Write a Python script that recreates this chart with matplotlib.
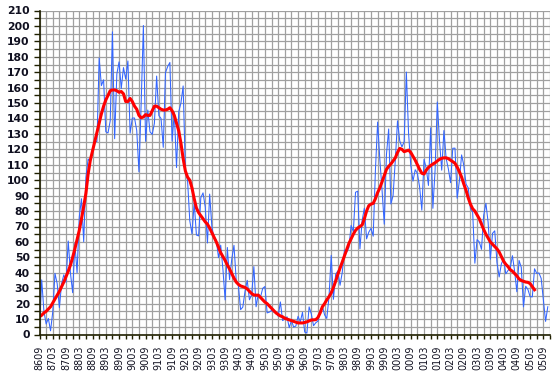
import matplotlib
matplotlib.use("Agg")
import matplotlib.pyplot as plt
from matplotlib.ticker import MultipleLocator, FixedLocator

# Monthly sunspot numbers, 1986-09 .. 2005-11
monthly_ssn = [
    3.8, 35.4, 15.2, 6.8,
    10.4, 2.4, 14.7, 39.6, 33.0, 17.4, 33.0, 38.7, 33.9, 60.6, 39.9, 27.1,
    59.0, 40.0, 76.2, 88.0, 60.1, 101.8, 113.8, 111.6, 120.1, 125.1, 125.1, 179.2,
    161.3, 165.1, 131.4, 130.6, 138.5, 196.2, 126.9, 168.9, 176.7, 159.4, 173.0, 165.5,
    177.3, 130.5, 140.3, 140.3, 132.2, 105.4, 149.4, 200.3, 125.2, 145.5, 131.4, 129.7,
    136.9, 167.5, 141.9, 140.0, 121.3, 169.7, 173.7, 176.3, 125.3, 144.1, 108.2, 144.4,
    150.0, 161.1, 106.7, 99.8, 73.8, 65.2, 85.7, 64.5, 63.9, 88.7, 91.8, 82.6,
    59.3, 91.0, 69.8, 62.2, 61.3, 49.8, 57.9, 42.2, 22.4, 56.4, 35.6, 48.9,
    57.8, 35.5, 31.7, 16.1, 17.8, 28.0, 35.1, 22.5, 25.7, 44.0, 18.0, 26.2,
    24.2, 29.9, 31.1, 14.0, 14.5, 15.6, 14.5, 14.3, 11.8, 21.1, 9.0, 10.0,
    11.5, 4.4, 9.2, 4.8, 5.5, 11.8, 8.2, 14.4, 1.6, 0.9, 17.9, 13.3,
    5.7, 7.6, 8.7, 15.5, 18.5, 12.7, 10.4, 24.4, 51.3, 22.8, 39.0, 41.2,
    31.9, 40.3, 54.8, 53.4, 56.3, 70.7, 66.6, 92.2, 92.9, 55.5, 74.0, 81.9,
    62.0, 66.3, 68.8, 63.7, 106.4, 137.7, 113.5, 93.7, 71.5, 116.7, 133.2, 84.6,
    90.1, 112.9, 138.5, 125.5, 121.6, 124.9, 170.1, 130.5, 109.7, 99.4, 106.8, 104.4,
    95.6, 80.6, 113.5, 107.7, 96.6, 134.0, 81.8, 106.4, 150.7, 125.5, 106.5, 132.2,
    114.1, 107.4, 98.4, 120.7, 120.8, 88.3, 99.6, 116.4, 109.6, 97.5, 95.0, 81.6,
    79.5, 46.2, 61.5, 60.0, 55.2, 77.4, 85.0, 72.7, 48.8, 65.6, 67.2, 46.6,
    37.3, 45.8, 49.1, 39.3, 41.5, 43.2, 51.1, 40.9, 27.7, 48.0, 43.5, 17.9,
    31.3, 29.2, 24.5, 24.4, 42.6, 39.6, 39.9, 36.4, 22.1, 8.5, 18.0,
]

# Smoothed sunspot numbers, 1986-09 .. 2005-05
smoothed_ssn = [
    11.5, 12.5, 14, 15,
    16.5, 18, 20.5, 23, 25.5, 28, 31, 34, 37.5, 41, 45, 50,
    55.5, 61.5, 67.5, 75, 83, 91.5, 104, 113, 119, 125, 131, 137,
    143, 148, 152, 155, 158, 158.5, 158.5, 158, 157, 157.5, 156, 151,
    151, 153, 151, 148, 146, 142, 140.5, 141, 142.5, 142, 142, 145,
    148, 148, 147, 146, 145.5, 145.5, 146, 147, 145, 142, 137, 132,
    124, 114, 106, 102, 100, 95, 88, 82, 79, 77, 75, 73,
    71.5, 69, 66, 63, 60, 56.5, 53, 50.5, 48, 45, 42.5, 39.5,
    36.5, 34, 32.5, 31.5, 31, 30.5, 29.5, 28, 26.5, 25.6, 25.5, 25.5,
    24, 22.5, 21, 20, 18.5, 17, 15.5, 14, 13, 12, 11.5, 10.5,
    10, 9.5, 9, 8.5, 8, 7.5, 7.5, 7.5, 7.8, 8.2, 8.8, 9.4,
    9.5, 9.6, 11, 14, 18, 20, 22.5, 24.5, 27, 30.5, 34.5, 39,
    43, 47, 51, 55, 59, 62, 65, 67.5, 69, 70, 71, 75,
    80, 83.5, 84.5, 85, 88, 92, 95, 99, 103, 107, 109, 110.5,
    112.5, 114.5, 118, 120.6, 120, 118.5, 119, 119.5, 118, 115.5, 113, 110,
    107, 104.5, 104, 106.5, 108.3, 109.5, 110.5, 111.3, 112.5, 113.5, 114.2, 114.5,
    114.5, 114, 113, 112, 111, 108.5, 105.5, 102, 97.5, 93.5, 88.5, 84.5,
    81.5, 80, 77.5, 75, 71.5, 68, 65, 62.5, 60, 58.5, 57, 55.5,
    53.5, 50.5, 47.5, 45.5, 44, 42, 41, 39.5, 38, 36, 35, 34.5,
    34, 33.8, 33, 31, 29,
]

tick_labels = [
    "8609", "8703", "8709", "8803", "8809", "8903", "8909", "9003", "9009",
    "9103", "9109", "9203", "9209", "9303", "9309", "9403", "9409", "9503",
    "9509", "9603", "9609", "9703", "9709", "9803", "9809", "9903", "9909",
    "0003", "0009", "0103", "0109", "0203", "0209", "0303", "0309", "0403",
    "0409", "0503", "0509",
]

fig = plt.figure(figsize=(5.55, 3.71), dpi=100)
fig.patch.set_facecolor("white")
ax = fig.add_axes([39.5 / 555, 36.5 / 371, 510.5 / 555, 324 / 371])

x_raw = list(range(len(monthly_ssn)))
x_sm = list(range(len(smoothed_ssn)))

grid_col = "#a0a0a0"
ax.set_xlim(0, 231)
ax.set_ylim(0, 210)
ax.xaxis.set_major_locator(FixedLocator(list(range(0, 6 * len(tick_labels), 6))))
ax.xaxis.set_minor_locator(MultipleLocator(3))
ax.yaxis.set_major_locator(MultipleLocator(10))
ax.yaxis.set_minor_locator(MultipleLocator(5))
ax.set_xticklabels(tick_labels)
ax.grid(which="both", color=grid_col, linewidth=0.9)
ax.set_axisbelow(True)

ax.plot(x_raw, monthly_ssn, color="#3366ff", linewidth=0.75, zorder=3)
ax.plot(x_sm, smoothed_ssn, color="#ff0000", linewidth=2.2, zorder=4)

for s in ["top", "right"]:
    ax.spines[s].set_visible(False)
for s in ["left", "bottom"]:
    ax.spines[s].set_color("#202000")
    ax.spines[s].set_linewidth(1.2)
    ax.spines[s].set_zorder(5)

ax.tick_params(axis="y", which="both", direction="out", length=4, width=1,
               color="#202000", pad=3)
ax.tick_params(axis="x", which="both", direction="out", length=3, width=1,
               color="#202000", pad=5)
for lbl in ax.get_yticklabels():
    lbl.set_fontfamily("DejaVu Sans")
    lbl.set_fontweight("bold")
    lbl.set_fontsize(7.8)
    lbl.set_color("#101020")
for lbl in ax.get_xticklabels():
    lbl.set_fontfamily("DejaVu Sans")
    lbl.set_fontsize(6.9)
    lbl.set_rotation(90)
    lbl.set_color("#101020")

fig.savefig("out.png", dpi=100, facecolor="white")
